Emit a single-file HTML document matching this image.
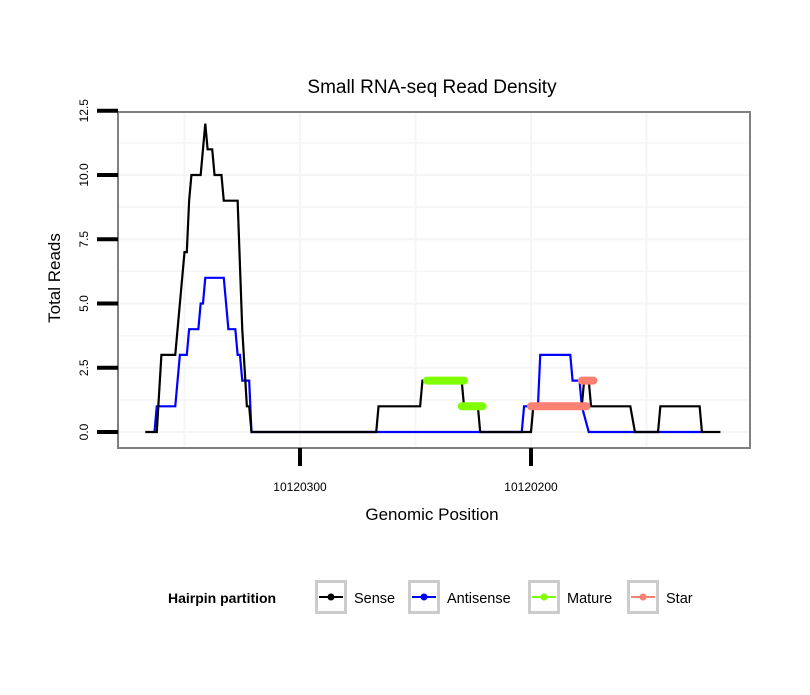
<!DOCTYPE html>
<html><head><meta charset="utf-8"><style>
body{margin:0;background:#fff;}
svg text{font-family:"Liberation Sans",sans-serif;}
</style></head><body>
<svg id="chart" width="810" height="690" xmlns="http://www.w3.org/2000/svg">
<rect width="810" height="690" fill="#fff"/>
<text x="432" y="93" font-size="19" text-anchor="middle">Small RNA-seq Read Density</text>
<g id="grid"></g>
<g id="series"></g>
<rect x="118" y="112" width="632" height="336" fill="none" stroke="#808080" stroke-width="2"/>
<g id="axes"></g>
<text x="432" y="520" font-size="17" text-anchor="middle">Genomic Position</text>
<text transform="translate(60,278) rotate(-90)" font-size="17" text-anchor="middle">Total Reads</text>
<g id="legend">
<text x="168" y="603" font-size="14" font-weight="bold">Hairpin partition</text>
</g>
</svg>
<script>
const NS="http://www.w3.org/2000/svg";
const yTicks=[0,2.5,5,7.5,10,12.5];
const yTickLabels=["0.0","2.5","5.0","7.5","10.0","12.5"];
const xTicks=[10120300,10120200];
const xTickLabels=["10120300","10120200"];
const sensePos=[10120367,10120362,10120360,10120354,10120350,10120349,10120348,10120347,10120343,10120341,10120340,10120338,10120337,10120334,10120333,10120327,10120325,10120323,10120322,10120321,10120267,10120266,10120248,10120247,10120230,10120229,10120223,10120222,10120200,10120199,10120178,10120177,10120175,10120174,10120157,10120155,10120145,10120144,10120127,10120126,10120118];
const senseVal=[0,0,3,3,7,7,9,10,10,12,11,11,10,10,9,9,4,1,1,0,0,1,1,2,2,1,1,0,0,1,1,2,2,1,1,0,0,1,1,0,0];
const antiPos=[10120363,10120362,10120354,10120352,10120349,10120348,10120344,10120343,10120342,10120341,10120333,10120331,10120328,10120327,10120326,10120325,10120322,10120321,10120204,10120203,10120197,10120196,10120183,10120182,10120179,10120178,10120175,10120126];
const antiVal=[0,1,1,3,3,4,4,5,5,6,6,4,4,3,3,2,2,0,0,1,1,3,3,2,2,1,0,0];
const maturePos=[10120245,10120229,10120230,10120221];
const matureVal=[2,2,1,1];
const starPos=[10120200,10120176,10120178,10120173];
const starVal=[1,1,2,2];
const X=p=>300+(10120300-p)*2.31;
const Y=v=>432-v*25.7;
function mk(tag,attrs,parent){const e=document.createElementNS(NS,tag);for(const k in attrs)e.setAttribute(k,attrs[k]);parent.appendChild(e);return e;}
const grid=document.getElementById('grid'),axes=document.getElementById('axes'),ser=document.getElementById('series');
for(let v=0;v<=12.5;v+=1.25){const y=Y(v);if(y<114)continue;const l=mk('line',{x1:119,x2:749,y1:y,y2:y,stroke:'#f5f5f5','stroke-width':v%2.5===0?2:1.5},grid);

}
for(let p=10120400;p>=10120100;p-=50){const x=X(p);if(x<119||x>749)continue;const l=mk('line',{x1:x,x2:x,y1:113,y2:447,stroke:'#f5f5f5','stroke-width':2},grid);

}
yTicks.forEach((v,i)=>{const t=mk('line',{x1:97,x2:118,y1:Y(v),y2:Y(v),stroke:'#000','stroke-width':4},axes);


const tx=mk('text',{transform:`translate(88,${Y(v)}) rotate(-90)`,'font-size':12,'text-anchor':'middle'},axes);tx.textContent=yTickLabels[i];

});
xTicks.forEach((p,i)=>{const t=mk('line',{x1:X(p),x2:X(p),y1:448,y2:466,stroke:'#000','stroke-width':4},axes);


const tx=mk('text',{x:X(p),y:491,'font-size':12,'text-anchor':'middle'},axes);tx.textContent=xTickLabels[i];

});
function line(pos,val,color,w,name){const pts=pos.map((p,i)=>X(p)+','+Y(val[i])).join(' ');const pl=mk('polyline',{points:pts,fill:'none',stroke:color,'stroke-width':w,'stroke-linejoin':'miter'},ser);

}
function seg(pos,val,color,name){for(let i=0;i<pos.length;i+=2){const l=mk('line',{x1:X(pos[i]),x2:X(pos[i+1]),y1:Y(val[i]),y2:Y(val[i+1]),stroke:color,'stroke-width':8,'stroke-linecap':'round'},ser);

}}
line(antiPos,antiVal,'#0000ff',2.2,'antisense-line');
line(sensePos,senseVal,'#000',2.2,'sense-line');
seg(maturePos,matureVal,'#7fff00','mature-segment');
seg(starPos,starVal,'#fa8072','star-segment');
const lg=document.getElementById('legend');
const keys=[[315,'#000','Sense',354],[408,'#0000ff','Antisense',447],[528,'#7fff00','Mature',567],[627,'#fa8072','Star',666]];
keys.forEach(k=>{const r=mk('rect',{x:k[0]+1.5,y:581.5,width:29,height:31,fill:'#fff',stroke:'#ccc','stroke-width':3},lg);


const l=mk('line',{x1:k[0]+4,x2:k[0]+28,y1:597,y2:597,stroke:k[1],'stroke-width':2},lg);


const c=mk('circle',{cx:k[0]+16,cy:597,r:3.5,fill:k[1]},lg);


const t=mk('text',{x:k[3],y:603,'font-size':14.5},lg);t.textContent=k[2];

});
</script>
</body></html>
